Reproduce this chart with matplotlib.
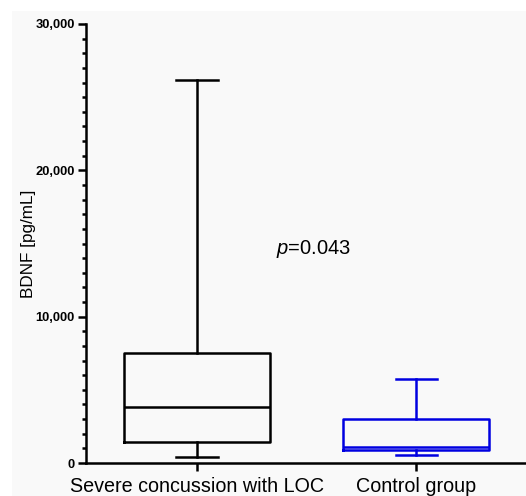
import matplotlib
matplotlib.use("Agg")
from matplotlib import pyplot as plt
from matplotlib.patches import Rectangle
from matplotlib.ticker import MultipleLocator, FuncFormatter

# group labels and box statistics (pg/mL)
groups = ["Severe concussion with LOC", "Control group"]
whisker_low = [400, 570]
q1 = [1460, 890]
median = [3800, 1120]
q3 = [7550, 2990]
whisker_high = [26200, 5730]
colors = ["black", "#0000e0"]
p_text = "=0.043"

plt.rcParams["font.family"] = ["Liberation Sans", "DejaVu Sans"]
plt.rcParams["mathtext.fontset"] = "custom"
plt.rcParams["mathtext.it"] = "Liberation Sans:italic"

fig = plt.figure(figsize=(5.26, 4.96), dpi=100)
fig.patch.set_facecolor("white")
# light gray panel behind the chart
fig.patches.append(Rectangle((12 / 526, 0), 1, 1 - 11 / 496, transform=fig.transFigure,
                             facecolor="#f9f9f9", edgecolor="none", zorder=-1))

ax = fig.add_axes([86 / 526, 1 - 463 / 496, 1 - 86 / 526, (463 - 24) / 496])
ax.patch.set_alpha(0)

stats = []
for i in range(len(groups)):
    stats.append(dict(whislo=whisker_low[i], q1=q1[i], med=median[i], q3=q3[i],
                      whishi=whisker_high[i], label=groups[i]))

lw = 1.8
for i, st in enumerate(stats):
    c = colors[i]
    ax.bxp([st], positions=[i + 1], widths=0.667, showfliers=False,
           boxprops=dict(color=c, linewidth=lw),
           medianprops=dict(color=c, linewidth=lw),
           whiskerprops=dict(color=c, linewidth=lw),
           capprops=dict(color=c, linewidth=lw),
           capwidths=0.19)

ax.set_xlim(0.493, 2.5)
ax.set_ylim(0, 30000)
ax.set_xticks([1, 2])
ax.set_xticklabels(groups, fontsize=14.2)

ax.yaxis.set_major_locator(MultipleLocator(10000))
ax.yaxis.set_minor_locator(MultipleLocator(1000))
ax.yaxis.set_major_formatter(FuncFormatter(lambda v, pos: f"{int(v):,}"))
for lab in ax.get_yticklabels():
    lab.set_fontweight("bold")
    lab.set_fontsize(9.3)

ax.tick_params(axis="y", which="major", length=6, width=1.8, pad=2)
ax.tick_params(axis="y", which="minor", length=3, width=1.8)
ax.tick_params(axis="x", which="major", length=6, width=1.8, pad=4)

for s in ["top", "right"]:
    ax.spines[s].set_visible(False)
for s in ["left", "bottom"]:
    ax.spines[s].set_linewidth(1.8)

ax.set_ylabel("BDNF [pg/mL]", fontsize=12.3, labelpad=0)
ax.text(1.53, 14600, "$p$" + p_text, fontsize=14.5, ha="center", va="center")

fig.savefig("out.png", dpi=100)
